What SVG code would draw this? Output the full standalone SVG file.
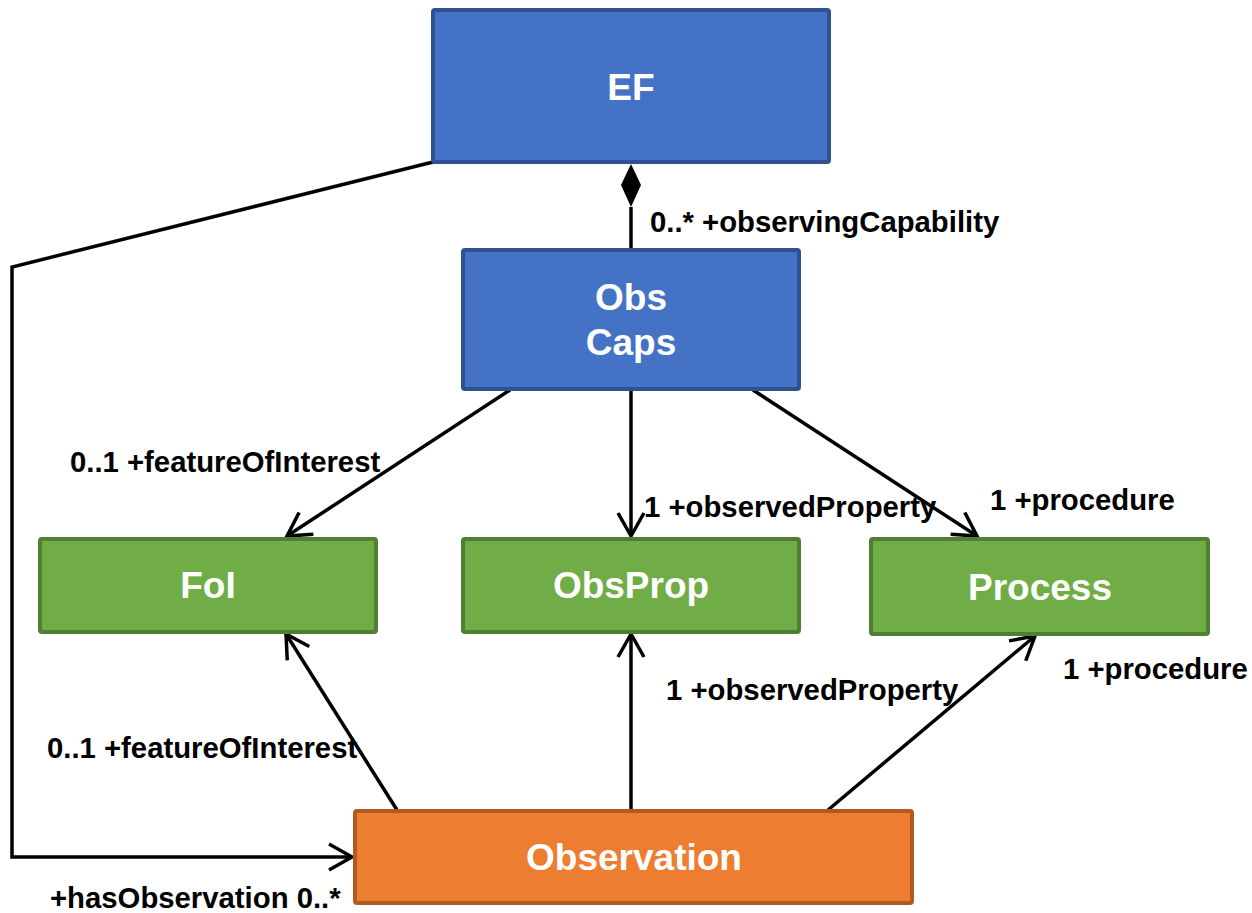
<svg xmlns="http://www.w3.org/2000/svg" width="1252" height="913" viewBox="0 0 1252 913">
<style>
.blue{fill:#4472C4;stroke:#2F528F;stroke-width:4}
.green{fill:#70AD47;stroke:#507E32;stroke-width:4}
.orange{fill:#ED7D31;stroke:#AE5A21;stroke-width:4}
.nt{font-family:"Liberation Sans",Arial,sans-serif;font-weight:bold;font-size:37px;fill:#FFFFFF;text-anchor:middle}
.lbl{font-family:"Liberation Sans",Arial,sans-serif;font-weight:bold;font-size:29.3px;fill:#000000}
.ln{fill:none;stroke:#000000;stroke-width:3.5}
</style>
<defs>
<marker id="arr" markerUnits="userSpaceOnUse" markerWidth="40" markerHeight="40" viewBox="-30 -20 40 40" refX="0" refY="0" orient="auto" overflow="visible">
<path d="M-23,-13 L0,0 L-23,13" fill="none" stroke="#000000" stroke-width="3.5"/>
</marker>
</defs>
<g id="connectors">
<path class="ln" d="M433,162 L12,267 L12,857 L352,857" marker-end="url(#arr)"/>
<line class="ln" x1="631" y1="207" x2="631" y2="249"/>
<polygon points="631,164 641,185 631,207 621,185" fill="#000000"/>
<line class="ln" x1="510" y1="390" x2="287" y2="536" marker-end="url(#arr)"/>
<line class="ln" x1="631" y1="390" x2="631" y2="536" marker-end="url(#arr)"/>
<line class="ln" x1="753" y1="390" x2="977" y2="536" marker-end="url(#arr)"/>
<line class="ln" x1="397" y1="810" x2="286" y2="634" marker-end="url(#arr)"/>
<line class="ln" x1="631" y1="810" x2="631" y2="634" marker-end="url(#arr)"/>
<line class="ln" x1="828" y1="810" x2="1035" y2="636" marker-end="url(#arr)"/>
</g>
<g id="labels">
<text class="lbl" x="650" y="232">0..* +observingCapability</text>
<text class="lbl" x="70" y="472">0..1 +featureOfInterest</text>
<text class="lbl" x="644" y="517">1 +observedProperty</text>
<text class="lbl" x="990" y="510">1 +procedure</text>
<text class="lbl" x="1063" y="679">1 +procedure</text>
<text class="lbl" x="666" y="700">1 +observedProperty</text>
<text class="lbl" x="47" y="758">0..1 +featureOfInterest</text>
<text class="lbl" x="50" y="908">+hasObservation 0..*</text>
</g>
<g id="EF">
<rect class="blue" x="433" y="10" width="396" height="152" rx="2"/>
<text class="nt" x="631" y="100">EF</text>
</g>
<g id="ObsCaps">
<rect class="blue" x="463" y="250" width="336" height="139" rx="2"/>
<text class="nt" x="631" y="310">Obs</text>
<text class="nt" x="631" y="355">Caps</text>
</g>
<g id="FoI">
<rect class="green" x="40" y="539" width="336" height="93" rx="2"/>
<text class="nt" x="208" y="598">FoI</text>
</g>
<g id="ObsProp">
<rect class="green" x="463" y="539" width="336" height="93" rx="2"/>
<text class="nt" x="631" y="598">ObsProp</text>
</g>
<g id="Process">
<rect class="green" x="871" y="539" width="337" height="95" rx="2"/>
<text class="nt" x="1040" y="600">Process</text>
</g>
<g id="Observation">
<rect class="orange" x="355" y="811" width="557" height="92" rx="2"/>
<text class="nt" x="634" y="870">Observation</text>
</g>
</svg>
